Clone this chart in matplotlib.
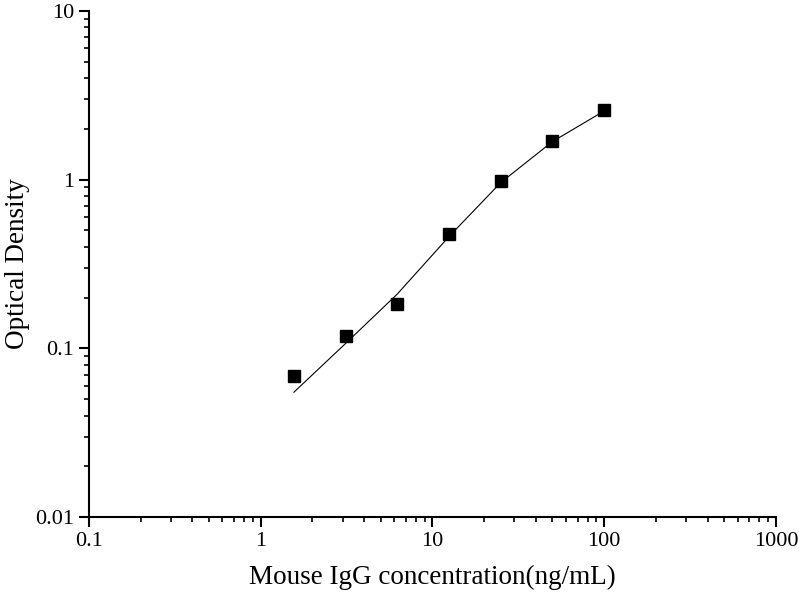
import matplotlib.pyplot as plt
from matplotlib.ticker import LogLocator, FixedFormatter, NullFormatter

plt.rcParams['font.family'] = ['Liberation Serif', 'DejaVu Serif']

# 标准品浓度与吸光度
conc = [1.5625, 3.125, 6.25, 12.5, 25, 50, 100]
od = [0.0686, 0.118, 0.183, 0.475, 0.98, 1.69, 2.59]
# 拟合曲线
fit_od = [0.055, 0.107, 0.21, 0.46, 0.96, 1.68, 2.55]

x_ticks = [0.1, 1, 10, 100, 1000]
x_labels = ['0.1', '1', '10', '100', '1000']
y_ticks = [0.01, 0.1, 1, 10]
y_labels = ['0.01', '0.1', '1', '10']

fig = plt.figure(figsize=(8, 6), dpi=100)
ax = fig.add_axes([0.111, 0.138, 0.859, 0.844])

ax.plot(conc, fit_od, color='black', linewidth=0.8)
ax.plot(conc, od, linestyle='none', marker='s', markersize=8.5, color='black')

ax.set_xscale('log')
ax.set_yscale('log')
ax.set_xlim(0.1, 1000)
ax.set_ylim(0.01, 10)

ax.set_xticks(x_ticks)
ax.xaxis.set_major_formatter(FixedFormatter(x_labels))
ax.set_yticks(y_ticks)
ax.yaxis.set_major_formatter(FixedFormatter(y_labels))
ax.xaxis.set_minor_locator(LogLocator(base=10, subs=range(2, 10)))
ax.yaxis.set_minor_locator(LogLocator(base=10, subs=range(2, 10)))
ax.xaxis.set_minor_formatter(NullFormatter())
ax.yaxis.set_minor_formatter(NullFormatter())

ax.spines['top'].set_visible(False)
ax.spines['right'].set_visible(False)
for s in ['left', 'bottom']:
    ax.spines[s].set_linewidth(1.5)

ax.tick_params(which='major', direction='out', length=7, width=1.5, labelsize=16)
ax.tick_params(which='minor', direction='out', length=3.5, width=1.2)

ax.set_xlabel('Mouse IgG concentration(ng/mL)', fontsize=19.5, labelpad=10)
ax.set_ylabel('Optical Density', fontsize=19.5, labelpad=4)

plt.savefig('out.png', dpi=100)
plt.close()
